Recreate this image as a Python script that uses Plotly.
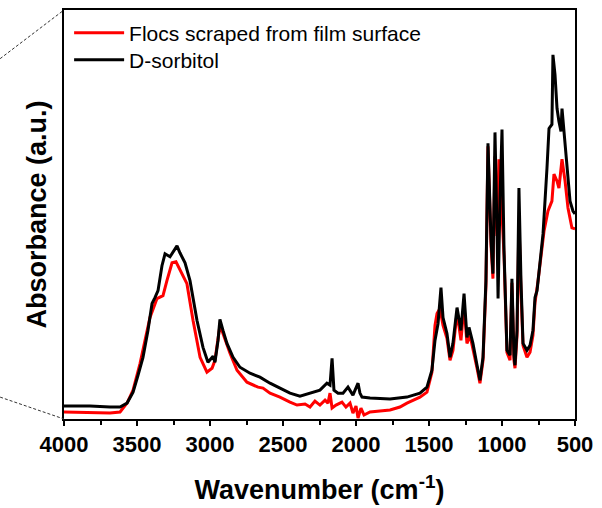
import plotly.graph_objects as go

# ---- data (arbitrary absorbance units) ----
wn_sorbitol = [4000, 3822, 3685, 3616, 3568, 3527, 3493, 3459, 3425, 3397, 3377, 3356, 3329, 3308,
               3274, 3247, 3226, 3206, 3171, 3137, 3089, 3048, 3014, 2979, 2966, 2945, 2932, 2911,
               2884, 2842, 2795, 2726, 2658, 2589, 2521, 2452, 2384, 2315, 2247, 2199, 2178, 2164,
               2151, 2123, 2089, 2055, 2021, 1986, 1973, 1959, 1904, 1767, 1699, 1651, 1562, 1514,
               1480, 1459, 1438, 1418, 1404, 1377, 1356, 1336, 1308, 1281, 1260, 1240, 1226, 1199,
               1171, 1151, 1130, 1110, 1096, 1075, 1062, 1048, 1034, 1027, 1014, 1000, 986, 966,
               945, 932, 918, 911, 897, 884, 870, 856, 829, 808, 788, 774, 760, 740, 719, 692,
               678, 658, 651, 637, 623, 610, 596, 589, 575, 555, 534, 514, 500]
abs_sorbitol = [0.14, 0.14, 0.13, 0.13, 0.17, 0.28, 0.45, 0.63, 0.90, 1.17, 1.23, 1.30, 1.55, 1.67,
                1.64, 1.70, 1.75, 1.68, 1.58, 1.40, 1.00, 0.73, 0.58, 0.64, 0.58, 0.80, 1.01, 0.90,
                0.77, 0.63, 0.53, 0.47, 0.43, 0.37, 0.32, 0.27, 0.24, 0.27, 0.30, 0.37, 0.35, 0.62,
                0.30, 0.27, 0.27, 0.33, 0.25, 0.37, 0.27, 0.23, 0.22, 0.21, 0.22, 0.23, 0.27, 0.33,
                0.50, 0.80, 0.97, 1.33, 1.03, 0.87, 0.63, 0.77, 1.13, 0.90, 1.27, 0.83, 0.93, 0.77,
                0.55, 0.40, 0.63, 1.40, 2.78, 1.80, 1.47, 2.89, 1.90, 1.22, 2.20, 2.92, 1.70, 0.70,
                0.65, 1.42, 0.65, 0.55, 0.90, 2.33, 1.40, 0.77, 0.70, 0.75, 0.90, 1.23, 1.30, 1.57,
                1.87, 2.53, 2.93, 2.97, 3.67, 3.47, 3.13, 3.00, 2.90, 3.13, 2.90, 2.53, 2.20, 2.10,
                2.07]

wn_flocs = [4000, 3685, 3616, 3568, 3527, 3479, 3445, 3411, 3363, 3322, 3295, 3260, 3233, 3192,
            3158, 3116, 3068, 3021, 2986, 2966, 2945, 2932, 2911, 2863, 2815, 2747, 2671, 2637,
            2589, 2521, 2452, 2404, 2349, 2315, 2281, 2247, 2212, 2192, 2178, 2164, 2137, 2096,
            2069, 2041, 2021, 2000, 1986, 1966, 1945, 1904, 1836, 1767, 1699, 1651, 1562, 1514,
            1480, 1459, 1445, 1425, 1404, 1377, 1356, 1336, 1308, 1281, 1260, 1240, 1219, 1199,
            1171, 1151, 1130, 1110, 1096, 1075, 1062, 1048, 1034, 1021, 1007, 986, 966, 945,
            932, 918, 911, 897, 884, 870, 856, 829, 808, 788, 774, 753, 733, 712, 685, 658,
            644, 623, 610, 589, 568, 548, 521, 500]
abs_flocs = [0.08, 0.07, 0.08, 0.17, 0.30, 0.57, 0.80, 1.03, 1.22, 1.25, 1.40, 1.58, 1.59, 1.47,
             1.37, 1.00, 0.63, 0.48, 0.52, 0.60, 0.85, 0.95, 0.87, 0.67, 0.50, 0.38, 0.33, 0.32,
             0.27, 0.23, 0.18, 0.15, 0.16, 0.13, 0.19, 0.15, 0.20, 0.17, 0.27, 0.12, 0.15, 0.18,
             0.13, 0.17, 0.07, 0.14, 0.02, 0.12, 0.05, 0.08, 0.09, 0.10, 0.13, 0.17, 0.23, 0.28,
             0.48, 0.95, 1.07, 1.12, 0.95, 0.82, 0.60, 0.70, 1.08, 0.80, 1.15, 0.77, 0.85, 0.72,
             0.52, 0.37, 0.60, 1.35, 2.75, 1.75, 1.42, 2.65, 1.85, 2.62, 2.30, 1.65, 0.68, 0.60,
             1.38, 0.60, 0.52, 0.85, 2.00, 1.30, 0.75, 0.63, 0.68, 0.85, 1.18, 1.40, 1.65, 1.90,
             2.10, 2.20, 2.47, 2.40, 2.33, 2.62, 2.40, 2.13, 1.93, 1.92]

x_tick_vals = [4000, 3500, 3000, 2500, 2000, 1500, 1000, 500]
x_tick_text = ["4000", "3500", "3000", "2500", "2000", "1500", "1000", "500"]
series_names = ["Flocs scraped from film surface", "D-sorbitol"]
series_colors = ["#ff0000", "#000000"]

FONT = "Arial, 'Liberation Sans', sans-serif"

fig = go.Figure()
fig.add_trace(go.Scatter(x=wn_flocs, y=abs_flocs, mode="lines", name=series_names[0],
                         line=dict(color=series_colors[0], width=3), legend="legend"))
fig.add_trace(go.Scatter(x=wn_sorbitol, y=abs_sorbitol, mode="lines", name=series_names[1],
                         line=dict(color=series_colors[1], width=3), legend="legend2"))

# zoom-connector dashed lines to the left of the frame
fig.add_shape(type="line", xref="paper", yref="paper", x0=-0.125, y0=0.881, x1=0, y1=1.0,
              line=dict(color="#333333", width=1, dash="3px,2px"))
fig.add_shape(type="line", xref="paper", yref="paper", x0=-0.125, y0=0.0535, x1=0, y1=0.0,
              line=dict(color="#333333", width=1, dash="3px,2px"))

legend_style = dict(xanchor="left", yanchor="top", bgcolor="rgba(0,0,0,0)",
                    font=dict(size=21, family=FONT), itemwidth=50)

fig.update_layout(
    width=602, height=508,
    margin=dict(l=64, r=27, t=8, b=89),
    paper_bgcolor="white", plot_bgcolor="white",
    font=dict(family=FONT, color="black"),
    showlegend=True,
    legend=dict(x=0.01, y=0.9935, **legend_style),
    legend2=dict(x=0.01, y=0.9278, **legend_style),
)
fig.update_xaxes(
    range=[4000, 500], autorange=False,
    tickmode="array", tickvals=x_tick_vals, ticktext=x_tick_text,
    ticks="outside", ticklen=5, tickwidth=2, tickcolor="black",
    minor=dict(ticks="outside", ticklen=4, tickwidth=2, tickcolor="black", dtick=250, showgrid=False),
    tickfont=dict(size=22, family=FONT, weight="bold"),
    showline=True, linewidth=2, linecolor="black", mirror=True,
    showgrid=False, zeroline=False,
    title=dict(text="Wavenumber (cm<sup>-1</sup>)", font=dict(size=27, family=FONT, weight="bold"),
               standoff=24),
)
fig.update_yaxes(
    range=[0.01, 4.12], autorange=False,
    showticklabels=False, ticks="",
    showline=True, linewidth=2, linecolor="black", mirror=True,
    showgrid=False, zeroline=False,
    title=dict(text="Absorbance (a.u.)", font=dict(size=27, family=FONT, weight="bold"),
               standoff=8),
)

fig.write_html("out.html", config={"displayModeBar": False},
               post_script="document.body.style.margin='0px';")
